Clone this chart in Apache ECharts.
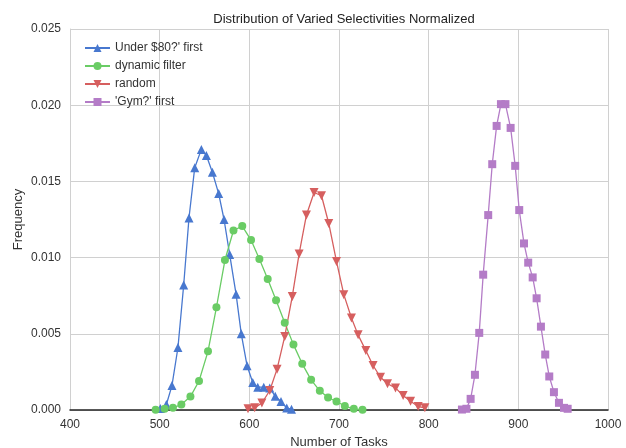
<!DOCTYPE html>
<html>
<head>
<meta charset="utf-8">
<script src="https://cdn.jsdelivr.net/npm/echarts@6/dist/echarts.min.js"></script>
<style>
  html, body { margin: 0; padding: 0; background: #fff; }
  #chart { width: 626px; height: 448px; }
</style>
</head>
<body>
<div id="chart"></div>
<script>
// values
const underX = [500.8, 507.5, 513.7, 520.4, 526.8, 532.7, 539.1, 546.5, 552.1, 558.8, 565.8, 571.8,
  578.1, 585.2, 591.0, 597.5, 603.8, 609.4, 616.1, 622.8, 628.9, 635.3, 641.7, 647.0];
const underY = [0.0001, 0.00036, 0.0016, 0.0041, 0.0082, 0.0126, 0.0159, 0.0171, 0.0167, 0.0156, 0.0142, 0.0125,
  0.0102, 0.0076, 0.0050, 0.0029, 0.0018, 0.0015, 0.0015, 0.00145, 0.0009, 0.00056, 0.00013, 0.00005];

const dynX = [495.5, 505.6, 514.8, 524.2, 534.3, 543.9, 553.9, 563.3, 572.8, 582.3, 592.1, 601.9, 611.2,
  620.5, 629.8, 639.5, 649.2, 659.0, 668.9, 678.6, 687.8, 697.2, 706.5, 716.5, 726.2];
const dynY = [0.00001, 0.00008, 0.00014, 0.00036, 0.00088, 0.0019, 0.00385, 0.00674, 0.00984, 0.01178, 0.01207,
  0.01115, 0.00991, 0.0086, 0.0072, 0.00572, 0.00429, 0.00303, 0.00198, 0.00126, 0.00082, 0.00056,
  0.00026, 0.00008, 0.00001];

const randX = [598.5, 606.0, 614.0, 622.8, 630.9, 639.5, 647.9, 655.5, 663.7, 672.2, 680.5, 688.6, 697.2,
  705.4, 713.9, 721.3, 729.9, 738.0, 746.3, 754.1, 763.0, 771.5, 779.8, 788.3, 795.8];
const randY = [0.00008, 0.00014, 0.00046, 0.00128, 0.00268, 0.00483, 0.00745, 0.01024, 0.0128, 0.01427,
  0.01406, 0.01224, 0.00975, 0.00757, 0.00604, 0.00493, 0.0039, 0.00292, 0.00215, 0.00172, 0.00145,
  0.00095, 0.00058, 0.00023, 0.00014];

const gymX = [837.1, 842.1, 846.8, 851.6, 856.4, 860.8, 866.4, 870.9, 875.8, 880.6, 885.6, 891.4, 896.5,
  901.0, 906.3, 911.0, 916.0, 920.4, 925.2, 930.0, 934.5, 939.7, 945.3, 950.9, 955.0];
const gymY = [0.00003, 0.00008, 0.00073, 0.00231, 0.00506, 0.00888, 0.01279, 0.01613, 0.01864, 0.02007,
  0.02007, 0.01851, 0.01602, 0.01312, 0.01093, 0.00967, 0.0087, 0.00733, 0.00547, 0.00364, 0.0022,
  0.00117, 0.00047, 0.00014, 0.00008];

const seriesNames = ["Under $80?' first", 'dynamic filter', 'random', "'Gym?' first"];
const xTicks = [400, 500, 600, 700, 800, 900, 1000];
const yTicks = [0, 0.005, 0.01, 0.015, 0.02, 0.025];

const zip = (xs, ys) => xs.map((x, i) => [x, ys[i]]);
const font = 'Liberation Sans, Arial, sans-serif';

const chart = echarts.init(document.getElementById('chart'));

function makeLine(name, data, color, symbol, size, rotate) {
  return {
    name: name,
    type: 'line',
    data: data,
    symbol: symbol,
    symbolSize: size,
    symbolRotate: rotate || 0,
    showAllSymbol: true,
    animation: false,
    lineStyle: { color: color, width: 1.3 },
    itemStyle: { color: color, borderWidth: 0 },
    z: 3,
  };
}

chart.setOption({
  backgroundColor: '#fff',
  textStyle: { fontFamily: font },
  title: {
    text: 'Distribution of Varied Selectivities Normalized',
    left: 339,
    textAlign: 'center',
    top: 8,
    textStyle: { fontSize: 13, fontWeight: 'normal', color: '#222', fontFamily: font },
  },
  legend: {
    orient: 'vertical',
    left: 79,
    top: 37,
    itemWidth: 25,
    itemHeight: 10,
    itemGap: 6,
    textStyle: { fontSize: 12, color: '#333', fontFamily: font },
    data: seriesNames,
  },
  grid: { left: 70, right: 18, top: 29, bottom: 38, outerBoundsMode: 'none' },
  xAxis: {
    type: 'value',
    min: xTicks[0],
    max: xTicks[xTicks.length - 1],
    interval: 100,
    name: 'Number of Tasks',
    nameLocation: 'middle',
    nameGap: 26,
    nameTextStyle: { fontSize: 13, color: '#333' },
    axisLine: { show: true, onZero: false, lineStyle: { color: '#222', width: 1.5 } },
    axisTick: { show: false },
    axisLabel: { fontSize: 12, color: '#333', margin: 9, formatter: v => String(v) },
    splitLine: { show: true, lineStyle: { color: '#d0d0d0', width: 1 } },
  },
  yAxis: {
    type: 'value',
    min: yTicks[0],
    max: yTicks[yTicks.length - 1],
    interval: 0.005,
    name: 'Frequency',
    nameLocation: 'middle',
    nameGap: 45,
    nameMoveOverlap: false,
    nameTextStyle: { fontSize: 13, color: '#333' },
    axisLine: { show: true, lineStyle: { color: '#d0d0d0', width: 1 } },
    axisTick: { show: false },
    axisLabel: { fontSize: 12, color: '#333', margin: 9, formatter: v => v.toFixed(3) },
    splitLine: { show: true, lineStyle: { color: '#d0d0d0', width: 1 } },
  },
  series: [
    makeLine(seriesNames[0], zip(underX, underY), '#4878CF', 'triangle', 9),
    makeLine(seriesNames[1], zip(dynX, dynY), '#6ACC65', 'circle', 8),
    makeLine(seriesNames[2], zip(randX, randY), '#D65F5F', 'triangle', 9, 180),
    makeLine(seriesNames[3], zip(gymX, gymY), '#B47CC7', 'rect', 8),
  ],
});
</script>
</body>
</html>
